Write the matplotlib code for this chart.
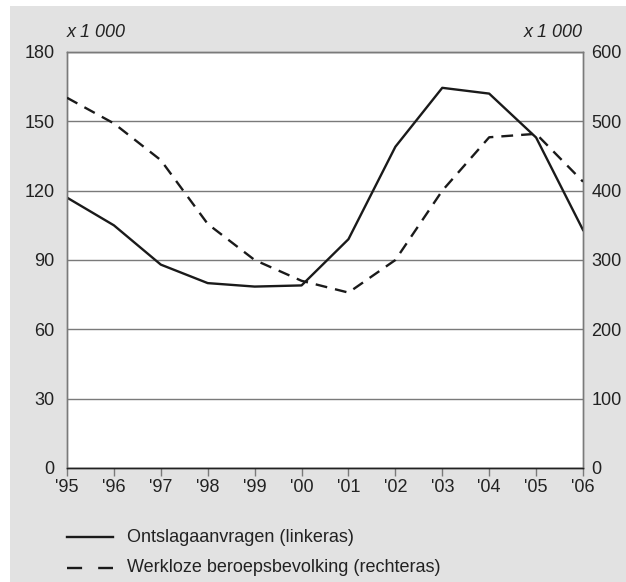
import matplotlib.pyplot as plt
from matplotlib.lines import Line2D
from matplotlib.patches import Rectangle

plt.rcParams['font.family'] = ['Liberation Sans', 'DejaVu Sans']

# Data (x 1 000)
years = ["'95", "'96", "'97", "'98", "'99", "'00", "'01", "'02", "'03", "'04", "'05", "'06"]
ontslagaanvragen = [117, 105, 88, 80, 78.5, 79, 99, 139, 164.5, 162, 143, 103]
werkloze_beroepsbevolking = [534, 497, 444, 352, 300, 270, 253, 300, 400, 477, 482, 413]

label_left = 'Ontslagaanvragen (linkeras)'
label_right = 'Werkloze beroepsbevolking (rechteras)'

grey_bg = '#e2e2e2'
grid_col = '#7a7a7a'
fs = 13

fig = plt.figure(figsize=(6.26, 5.82), dpi=100)
fig.patch.set_facecolor('white')
fig.add_artist(Rectangle((10 / 626, 0), 1 - 10 / 626, 1 - 6 / 582,
                         transform=fig.transFigure, facecolor=grey_bg,
                         edgecolor='none', zorder=0))

ax = fig.add_axes([67 / 626, 114 / 582, 516 / 626, 416 / 582])
ax.set_facecolor('white')
ax2 = ax.twinx()

x = list(range(len(years)))
ax.plot(x, ontslagaanvragen, color='#1a1a1a', lw=1.7, zorder=3)
ax2.plot(x, werkloze_beroepsbevolking, color='#1a1a1a', lw=1.7,
         linestyle=(0, (5, 3.4)), zorder=3)

ax.set_xlim(0, len(years) - 1)
ax.set_ylim(0, 180)
ax2.set_ylim(0, 600)
ax.set_yticks(range(0, 181, 30))
ax2.set_yticks(range(0, 601, 100))
ax.set_xticks(x)
ax.set_xticklabels(years)

ax.yaxis.grid(True, color=grid_col, lw=1)
ax.set_axisbelow(True)

ax.tick_params(axis='y', length=0, pad=9, labelsize=fs, labelcolor='#222222')
ax2.tick_params(axis='y', length=0, pad=6, labelsize=fs, labelcolor='#222222')
ax.tick_params(axis='x', length=6, width=1, color=grid_col, pad=2,
               labelsize=fs, labelcolor='#222222')

for a in (ax, ax2):
    for side in ('left', 'right', 'top'):
        a.spines[side].set_color(grid_col)
        a.spines[side].set_linewidth(1)
    a.spines['bottom'].set_color('#222222')
    a.spines['bottom'].set_linewidth(1)

ax.text(0, 1.048, 'x 1 000', transform=ax.transAxes, ha='left', va='center',
        fontsize=fs, style='italic', color='#222222')
ax.text(1, 1.048, 'x 1 000', transform=ax.transAxes, ha='right', va='center',
        fontsize=fs, style='italic', color='#222222')

# Legend drawn below the plot
x0, x1, xt = 67 / 626, 113 / 626, 127 / 626
y_solid, y_dash = 1 - 537 / 582, 1 - 568 / 582
fig.add_artist(Line2D([x0, x1], [y_solid, y_solid], transform=fig.transFigure,
                      color='#1a1a1a', lw=1.7))
fig.add_artist(Line2D([x0, x1], [y_dash, y_dash], transform=fig.transFigure,
                      color='#1a1a1a', lw=1.7, linestyle=(0, (6.4, 6.8))))
fig.text(xt, y_solid, label_left, ha='left', va='center', fontsize=fs, color='#222222')
fig.text(xt, y_dash, label_right, ha='left', va='center', fontsize=fs, color='#222222')

fig.savefig('out.png', dpi=100)
